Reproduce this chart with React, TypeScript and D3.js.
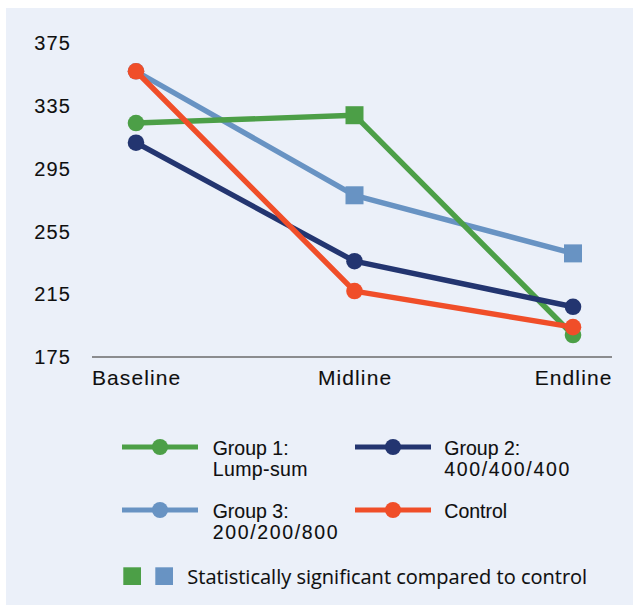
import React from "react";
import * as d3 from "d3";

const categories = ["Baseline", "Midline", "Endline"];
const yTicks = [175, 215, 255, 295, 335, 375];

const group1 = [324, 329, 189];
const group2 = [311.5, 236, 207];
const group3 = [357, 278, 241];
const control = [357, 217, 194];

// marker type per point: "c" circle, "s" square (statistically significant)
const group1Markers = ["c", "s", "c"];
const group2Markers = ["c", "c", "c"];
const group3Markers = ["c", "s", "s"];
const controlMarkers = ["c", "c", "c"];

const seriesNames = ["Group 1", "Group 2", "Group 3", "Control"];
const legendLabels = [["Group 1:", "Lump-sum"], ["Group 2:", "400/400/400"], ["Group 3:", "200/200/800"], ["Control"]];
const sigLabel = "Statistically significant compared to control";

const COLORS: Record<string, string> = {
  "Group 1": "#4C9F47",
  "Group 2": "#233570",
  "Group 3": "#6893C3",
  Control: "#F04E29",
};

const W = 633;
const H = 606;
const FONT = "'Liberation Sans', Arial, Helvetica, sans-serif";
const TEXT = "#0f0f0f";

export default function App() {
  const x = d3.scalePoint<string>().domain(categories).range([136, 573]);
  const y = d3.scaleLinear().domain([175, 375]).range([357, 43]);

  const data: Record<string, { values: number[]; markers: string[] }> = {
    "Group 1": { values: group1, markers: group1Markers },
    "Group 2": { values: group2, markers: group2Markers },
    "Group 3": { values: group3, markers: group3Markers },
    Control: { values: control, markers: controlMarkers },
  };
  const drawOrder = ["Group 3", "Group 1", "Group 2", "Control"];

  const line = d3
    .line<number>()
    .x((_, i) => x(categories[i]) as number)
    .y((d) => y(d));

  const legendPos = [
    { lx: 122, ly: 447, tx: 212.7 },
    { lx: 355, ly: 447, tx: 444.3 },
    { lx: 122, ly: 510, tx: 212.7 },
    { lx: 355, ly: 510, tx: 444.3 },
  ];

  const isDigits = (s: string) => /^[0-9/]+$/.test(s);
  const legendSpacing = (t: string, j: number) => (isDigits(t) ? 1.65 : j === 0 ? 0 : 0.4);
  const heavy = { stroke: TEXT, strokeWidth: 0.1 };

  return (
    <svg
      width={W}
      height={H}
      style={{ position: "absolute", left: 0, top: 0 }}
      xmlns="http://www.w3.org/2000/svg"
    >
      <rect x={0} y={0} width={W} height={H} fill="#ffffff" />
      <rect x={6} y={8} width={W - 6} height={597} fill="#EBF0F9" />

      {/* y tick labels */}
      {yTicks.map((t) => (
        <text
          key={t}
          x={71.2}
          y={y(t) + 7.2}
          textAnchor="end"
          fontFamily={FONT}
          fontSize={20}
          letterSpacing={1.2}
          fill={TEXT}
          {...heavy}
        >
          {t}
        </text>
      ))}

      {/* x axis */}
      <line x1={92} x2={612} y1={357} y2={357} stroke="#6b6b6b" strokeWidth={1.6} />
      {categories.map((c) => (
        <text
          key={c}
          x={(x(c) as number) + 0.6}
          y={384.5}
          textAnchor="middle"
          fontFamily={FONT}
          fontSize={21}
          letterSpacing={1.1}
          fill={TEXT}
          {...heavy}
        >
          {c}
        </text>
      ))}

      {/* series */}
      {drawOrder.map((name) => {
        const s = data[name];
        const col = COLORS[name];
        return (
          <g key={name}>
            <path d={line(s.values) || ""} fill="none" stroke={col} strokeWidth={5.4} strokeLinejoin="round" />
            {s.values.map((v, i) => {
              const cx = x(categories[i]) as number;
              const cy = y(v);
              return s.markers[i] === "s" ? (
                <rect key={i} x={cx - 9} y={cy - 9} width={18} height={18} fill={col} />
              ) : (
                <circle key={i} cx={cx} cy={cy} r={8.3} fill={col} />
              );
            })}
          </g>
        );
      })}

      {/* legend */}
      {seriesNames.map((name, i) => {
        const p = legendPos[i];
        const col = COLORS[name];
        return (
          <g key={name}>
            <line x1={p.lx} x2={p.lx + 76} y1={p.ly} y2={p.ly} stroke={col} strokeWidth={5} />
            <circle cx={p.lx + 38} cy={p.ly} r={8} fill={col} />
            {legendLabels[i].map((t, j) => (
              <text
                key={j}
                x={p.tx}
                y={p.ly + 8 + j * 21}
                fontFamily={FONT}
                fontSize={19.5}
                letterSpacing={legendSpacing(t, j)}
                fill={TEXT}
                {...heavy}
              >
                {t}
              </text>
            ))}
          </g>
        );
      })}

      <rect x={123.3} y={567.3} width={17.7} height={17.7} fill={COLORS["Group 1"]} />
      <rect x={155.3} y={567.3} width={17.7} height={17.7} fill={COLORS["Group 3"]} />
      <text
        x={187.3}
        y={583.5}
        fontFamily="'Open Sans', 'Noto Sans', sans-serif"
        fontSize={20}
        fill={TEXT}
        {...heavy}
      >
        {sigLabel}
      </text>
    </svg>
  );
}
